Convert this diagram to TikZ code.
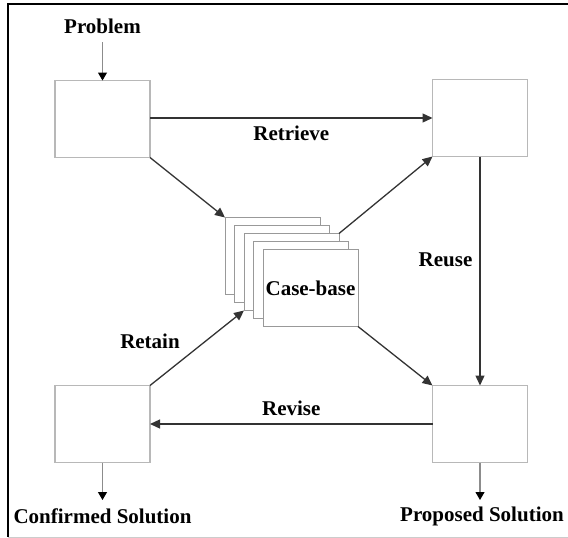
\documentclass[tikz,border=0pt]{standalone}
\usepackage{fontspec}
\setmainfont{Liberation Serif}
\usetikzlibrary{positioning,arrows.meta}

\begin{document}
\begin{tikzpicture}[x=1pt, y=-1pt,
  every node/.style={font=\fontsize{21}{24}\selectfont\bfseries},
  stage/.style={draw=black!28, line width=1.1pt, fill=white, minimum width=95pt, minimum height=77pt, inner sep=0pt, outer sep=0pt},
  casecard/.style={draw=black!40, line width=1pt, fill=white, minimum width=95pt, minimum height=77pt, inner sep=0pt, outer sep=0pt},
  flow/.style={-{Triangle[length=10pt,width=9pt]}, line width=1.3pt, draw=black!80},
  outflow/.style={-{Triangle[length=8pt,width=9pt,color=black]}, line width=1.1pt, draw=black!45},
  lbl/.style={inner sep=1pt}]
\useasboundingbox (0,0) rectangle (568,538);
% frame
\draw[line width=1.2pt] (568,4) -- (8,4) -- (8,537);
\draw[draw=black!20, line width=1pt] (8,537) -- (568,537);

% the four stages
\node[stage] (retrieveBox) at (102.5,119) {};
\node[stage] (reuseBox) at (480,118) {};
\node[stage] (retainBox) at (102.5,424) {};
\node[stage] (reviseBox) at (480,424) {};

% case-base stack
\node[casecard] (card1) at (272.5,256) {};
\node[casecard] (card2) at (281.5,264) {};
\node[casecard] (card3) at (291.5,272) {};
\node[casecard] (card4) at (300.5,280) {};
\node[casecard] (card5) at (310.5,288) {Case-base};

% inputs and outputs
\node (problem) at (102.5,26) {Problem};
\node (confirmed) at (102.5,516) {Confirmed Solution};
\node (proposed) at (482,516) {Proposed Solution};
\coordinate (problemTail) at (102.5,42);
\coordinate (confirmedTip) at (102.5,500);
\coordinate (proposedTip) at (480,500);

\draw[outflow] (problemTail) -- (retrieveBox.north);
\draw[outflow] (retainBox.south) -- (confirmedTip);
\draw[outflow] (reviseBox.south) -- (proposedTip);

% cycle
\draw[flow] (retrieveBox.east |- 0,118) -- node[lbl, below=6pt] {Retrieve} (reuseBox.west |- 0,118);
\draw[flow] (reuseBox.south) -- node[lbl, pos=0.45, left=6pt] {Reuse} (reviseBox.north);
\draw[flow] (reviseBox.west) -- node[lbl, above=7pt] {Revise} (retainBox.east);
\draw[flow] (retrieveBox.south east) -- (card1.north west);
\draw[flow] (card3.north east) -- (reuseBox.south west);
\draw[flow] (card5.south east) -- (reviseBox.north west);
\draw[flow] (retainBox.north east) -- (card3.south west);
\node[lbl] (retainLabel) at (150,341) {Retain};
\end{tikzpicture}
\end{document}
